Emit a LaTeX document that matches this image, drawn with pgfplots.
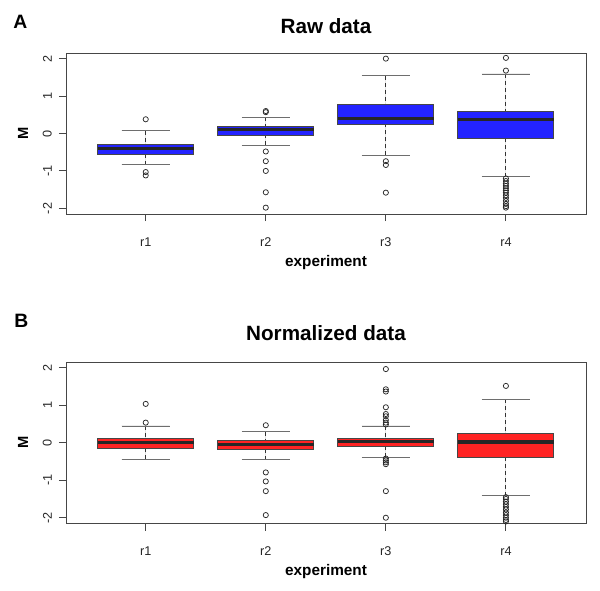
\documentclass[border=0pt]{standalone}
\usepackage{fontspec}
\setmainfont{Liberation Sans}
\usepackage{pgfplots}
\pgfplotsset{compat=1.18}
\usepgfplotslibrary{statistics}
\definecolor{boxblue}{RGB}{35,35,255}
\definecolor{boxred}{RGB}{255,35,35}
\definecolor{framegray}{RGB}{70,70,70}
\definecolor{capgray}{RGB}{110,110,110}

\pgfplotsset{
  rbox/.style={
    scale only axis, width=390pt, height=120.75pt,
    xmin=0.336, xmax=4.667, ymin=-2.15, ymax=2.15,
    xtick={1,2,3,4}, xticklabels={r1,r2,r3,r4},
    ytick={-2,-1,0,1,2},
    tick align=outside, major tick length=5.4pt,
    tick pos=left,
    axis line style={framegray, line width=0.7pt},
    tick style={framegray, line width=0.7pt},
    tick label style={font=\fontsize{9.5}{11}\selectfont, text=black!85},
    xticklabel style={anchor=base, yshift=-19pt},
    yticklabel style={rotate=90, anchor=south, inner sep=0pt},
    yticklabel shift=5pt,
    /pgf/number format/assume math mode=true,
    xlabel={experiment}, ylabel={M},
    xlabel style={font=\bfseries\fontsize{11.5}{13}\selectfont, at={(axis description cs:0.5,-0.327)}, anchor=base},
    ylabel style={font=\bfseries\fontsize{11}{13}\selectfont, at={(axis description cs:-0.0827,0.5)}, anchor=center},
    boxplot/draw direction=y,
    boxplot/box extend=0.8,
    boxplot/whisker extend=0.4,
    boxplot/every box/.style={draw=framegray, line width=0.7pt},
    boxplot/every median/.style={draw=black!85, line width=2.4pt},
    boxplot/draw/lower whisker/.code={%
      \draw[black!80, line width=0.7pt, dash pattern=on 3pt off 2.2pt]
        (boxplot box cs:\pgfplotsboxplotvalue{lower whisker},0.5) --
        (boxplot box cs:\pgfplotsboxplotvalue{lower quartile},0.5);
      \draw[capgray, line width=0.7pt, solid]
        (boxplot whisker cs:\pgfplotsboxplotvalue{lower whisker},0) --
        (boxplot whisker cs:\pgfplotsboxplotvalue{lower whisker},1);
    },
    boxplot/draw/upper whisker/.code={%
      \draw[black!80, line width=0.7pt, dash pattern=on 3pt off 2.2pt]
        (boxplot box cs:\pgfplotsboxplotvalue{upper whisker},0.5) --
        (boxplot box cs:\pgfplotsboxplotvalue{upper quartile},0.5);
      \draw[capgray, line width=0.7pt, solid]
        (boxplot whisker cs:\pgfplotsboxplotvalue{upper whisker},0) --
        (boxplot whisker cs:\pgfplotsboxplotvalue{upper whisker},1);
    },
  },
  rb/.style={mark=o, mark size=1.95pt, mark options={solid, draw=black!85, fill=none, line width=0.55pt}},
}

\begin{document}
\begin{tikzpicture}
\useasboundingbox (0,0) rectangle (450pt,442.5pt);

% ---------- Panel A ----------
\node[anchor=base west, inner sep=0pt, font=\bfseries\fontsize{14.5}{17}\selectfont] at (9.75pt,421pt) {A};
\node[anchor=base, inner sep=0pt, font=\bfseries\fontsize{15.5}{18}\selectfont] at (244.5pt,417.5pt) {Raw data};

\begin{axis}[rbox, at={(49.5pt,282pt)}, anchor=south west]
\addplot[rb, fill=boxblue, boxplot prepared={draw position=1, lower whisker=-0.84, lower quartile=-0.55, median=-0.41, upper quartile=-0.29, upper whisker=0.07}]
  table[row sep=\\, y index=0] {data\\ 0.38\\ -1.03\\ -1.12\\};
\addplot[rb, fill=boxblue, boxplot prepared={draw position=2, lower whisker=-0.31, lower quartile=-0.06, median=0.10, upper quartile=0.18, upper whisker=0.44}]
  table[row sep=\\, y index=0] {data\\ 0.60\\ 0.57\\ -0.48\\ -0.74\\ -1.00\\ -1.57\\ -1.98\\};
\addplot[rb, fill=boxblue, boxplot prepared={draw position=3, lower whisker=-0.58, lower quartile=0.23, median=0.40, upper quartile=0.78, upper whisker=1.54}]
  table[row sep=\\, y index=0] {data\\ 2.00\\ -0.74\\ -0.84\\ -1.58\\};
\addplot[rb, fill=boxblue, boxplot prepared={draw position=4, lower whisker=-1.16, lower quartile=-0.13, median=0.37, upper quartile=0.60, upper whisker=1.59}]
  table[row sep=\\, y index=0] {data\\ 2.02\\ 1.68\\ -1.20\\ -1.27\\ -1.34\\ -1.40\\ -1.46\\ -1.52\\ -1.58\\ -1.65\\ -1.72\\ -1.80\\ -1.88\\ -1.94\\ -1.98\\};
\end{axis}

% ---------- Panel B ----------
\node[anchor=base west, inner sep=0pt, font=\bfseries\fontsize{14.5}{17}\selectfont] at (10.5pt,196.7pt) {B};
\node[anchor=base, inner sep=0pt, font=\bfseries\fontsize{15.5}{18}\selectfont] at (244.5pt,187.5pt) {Normalized data};

\begin{axis}[rbox, at={(49.5pt,50pt)}, anchor=south west]
\addplot[rb, fill=boxred, boxplot prepared={draw position=1, lower whisker=-0.44, lower quartile=-0.15, median=0.00, upper quartile=0.115, upper whisker=0.45}]
  table[row sep=\\, y index=0] {data\\ 1.04\\ 0.54\\};
\addplot[rb, fill=boxred, boxplot prepared={draw position=2, lower whisker=-0.45, lower quartile=-0.18, median=-0.04, upper quartile=0.06, upper whisker=0.30}]
  table[row sep=\\, y index=0] {data\\ 0.47\\ -0.79\\ -1.03\\ -1.29\\ -1.93\\};
\addplot[rb, fill=boxred, boxplot prepared={draw position=3, lower whisker=-0.38, lower quartile=-0.10, median=0.04, upper quartile=0.13, upper whisker=0.45}]
  table[row sep=\\, y index=0] {data\\ 1.97\\ 1.43\\ 1.37\\ 0.95\\ 0.77\\ 0.71\\ 0.61\\ 0.54\\ 0.49\\ -0.42\\ -0.47\\ -0.52\\ -0.57\\ -1.29\\ -2.00\\};
\addplot[rb, fill=boxred, boxplot prepared={draw position=4, lower whisker=-1.41, lower quartile=-0.40, median=0.02, upper quartile=0.25, upper whisker=1.16}]
  table[row sep=\\, y index=0] {data\\ 1.52\\ -1.45\\ -1.50\\ -1.57\\ -1.64\\ -1.71\\ -1.78\\ -1.86\\ -1.93\\ -2.00\\ -2.06\\ -2.10\\};
\end{axis}
\end{tikzpicture}
\end{document}
